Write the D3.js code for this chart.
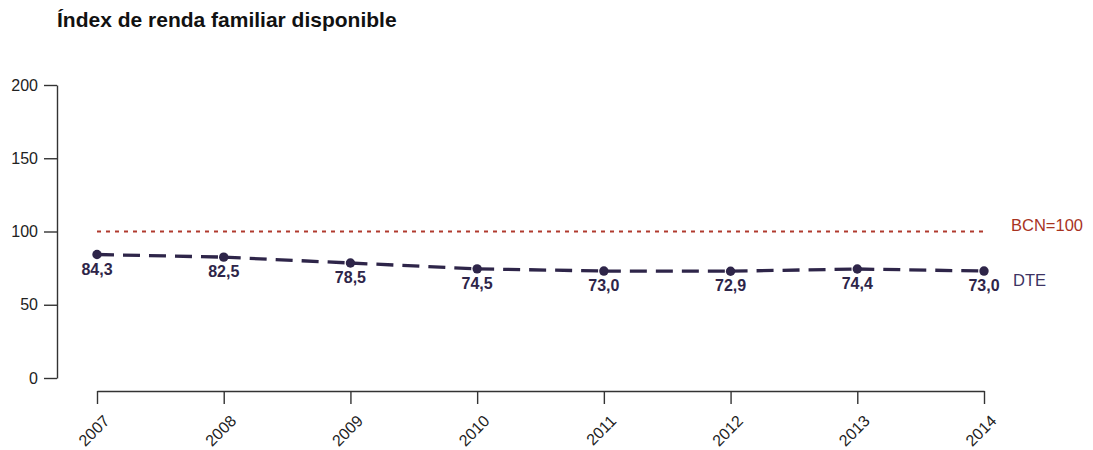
<!DOCTYPE html>
<html><head><meta charset="utf-8">
<script src="https://cdn.jsdelivr.net/npm/d3@7"></script>
<style>body{margin:0;background:#fff;} svg{display:block;font-family:Arial,"Liberation Sans",sans-serif;}</style>
</head><body>
<script>
const years = ["2007","2008","2009","2010","2011","2012","2013","2014"];
const dteValues = [84.3, 82.5, 78.5, 74.5, 73.0, 72.9, 74.4, 73.0];
const bcnValue = 100;
const yTicks = [0, 50, 100, 150, 200];
const titleText = "Índex de renda familiar disponible";
const seriesLabels = ["BCN=100", "DTE"];

const W = 1093, H = 450;
const FONT = "Arial, 'Liberation Sans', sans-serif";
const svg = d3.select("body").append("svg").attr("width", W).attr("height", H);

const x = d3.scalePoint().domain(years).range([97, 984]);
const y = d3.scaleLinear().domain([0, 200]).range([378, 85]);

svg.append("text").attr("x", 57).attr("y", 27).attr("font-size", 21).attr("font-weight", "bold")
  .attr("fill", "#111").text(titleText);

// Y axis
const yAxis = svg.append("g").attr("transform", "translate(57,0)")
  .call(d3.axisLeft(y).tickValues(yTicks).tickSize(13).tickPadding(6).tickSizeOuter(0));
yAxis.select(".domain").attr("stroke", "#333").attr("stroke-width", 1.4);
yAxis.selectAll(".tick line").attr("stroke", "#333").attr("stroke-width", 1.4);
yAxis.selectAll(".tick text").attr("font-size", 16).attr("fill", "#222").attr("font-family", FONT);

// X axis
const xAxis = svg.append("g").attr("transform", "translate(0,391)")
  .call(d3.axisBottom(x).tickSize(13).tickSizeOuter(0));
xAxis.select(".domain").attr("stroke", "#333").attr("stroke-width", 1.4);
xAxis.selectAll(".tick line").attr("stroke", "#333").attr("stroke-width", 1.4);
xAxis.selectAll(".tick text").attr("font-size", 16).attr("fill", "#222")
  .attr("font-family", FONT)
  .attr("text-anchor", "end").attr("dy", null).attr("y", 0)
  .attr("transform", "translate(13,31) rotate(-45)");

// BCN line
svg.append("line").attr("x1", x(years[0])).attr("x2", x(years[years.length-1]))
  .attr("y1", y(bcnValue)).attr("y2", y(bcnValue))
  .attr("stroke", "#b03a2e").attr("stroke-width", 2).attr("stroke-dasharray", "4,5");
svg.append("text").attr("x", 1011).attr("y", y(bcnValue) - 1).attr("font-size", 16.5)
  .attr("fill", "#a8331f").text(seriesLabels[0]);

// DTE line, dashed per segment
const col = "#2e2549";
const segs = d3.pairs(dteValues.map((v, i) => [years[i], v]));
svg.selectAll("path.seg").data(segs).join("path").attr("class", "seg")
  .attr("d", d3.line().x(d => x(d[0])).y(d => y(d[1])))
  .attr("fill", "none").attr("stroke", col).attr("stroke-width", 3.3)
  .attr("stroke-dasharray", "17,9");
svg.selectAll("circle.pt").data(dteValues).join("circle").attr("class", "pt")
  .attr("cx", (d, i) => x(years[i])).attr("cy", d => y(d)).attr("r", 4.7).attr("fill", col);
svg.selectAll("text.lbl").data(dteValues).join("text").attr("class", "lbl")
  .attr("x", (d, i) => x(years[i])).attr("y", d => y(d) + 20)
  .attr("text-anchor", "middle").attr("font-size", 16).attr("font-weight", "bold")
  .attr("fill", col).text(d => d.toFixed(1).replace(".", ","));
svg.append("text").attr("x", 1013).attr("y", y(dteValues[dteValues.length-1]) + 15).attr("font-size", 16.5)
  .attr("fill", "#3d3363").text(seriesLabels[1]);
</script>
</body></html>
